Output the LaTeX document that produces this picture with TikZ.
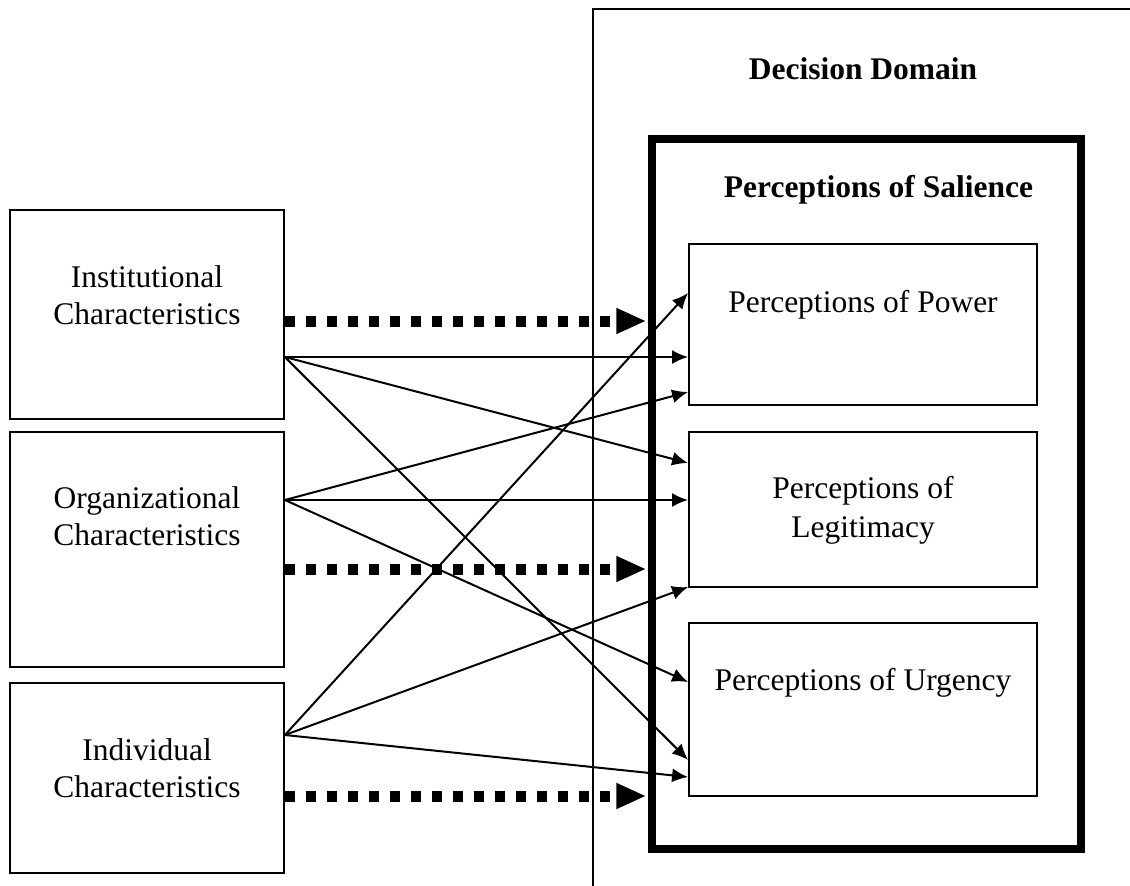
\documentclass[tikz,border=0pt]{standalone}
\usepackage{fontspec}
\setmainfont{Liberation Serif}
\usetikzlibrary{arrows.meta}
\begin{document}
\begin{tikzpicture}[x=1pt,y=-1pt,
  box/.style={draw, line width=1.8pt, inner sep=0pt, rectangle},
  lbl/.style={inner sep=0pt, anchor=base, font=\fontsize{31.5}{37}\selectfont},
  blbl/.style={lbl, font=\fontsize{31.5}{37}\selectfont\bfseries},
  link/.style={line width=2pt, -{Latex[length=16pt,width=14pt]}},
  flow/.style={line width=11pt, dash pattern=on 10pt off 11pt, -{Triangle[length=30pt,width=24pt]}, shorten >=2pt}]
\useasboundingbox (0,0) rectangle (1130,886);
% decision domain frame
\coordinate (dBL) at (593,890);
\coordinate (dTL) at (593,9);
\coordinate (dTR) at (1135,9);
\draw[line width=1.5pt] (dBL) -- (dTL) -- (dTR);
\node[blbl] (dom) at (863,79) {Decision Domain};
% salience box
\node[draw, line width=7.5pt, inner sep=0pt, minimum width=429pt, minimum height=710pt] (sal) at (866.5,494) {};
\node[blbl] (salt) at (878.5,197) {Perceptions of Salience};
% left boxes
\node[box, minimum width=274pt, minimum height=209pt] (inst) at (147,314.5) {};
\node[box, minimum width=274pt, minimum height=235pt] (org) at (147,549.5) {};
\node[box, minimum width=274pt, minimum height=190pt] (ind) at (147,778) {};
\node[lbl] (instt) at (147,287) {\begin{tabular}[t]{@{}c@{}}Institutional\\Characteristics\end{tabular}};
\node[lbl] (orgt) at (147,508) {\begin{tabular}[t]{@{}c@{}}Organizational\\Characteristics\end{tabular}};
\node[lbl] (indt) at (147,760) {\begin{tabular}[t]{@{}c@{}}Individual\\Characteristics\end{tabular}};
% right boxes
\node[box, fill=white, minimum width=348pt, minimum height=161pt] (pow) at (863,324.5) {};
\node[box, fill=white, minimum width=348pt, minimum height=155pt] (leg) at (863,509.5) {};
\node[box, fill=white, minimum width=348pt, minimum height=173pt] (urg) at (863,709.5) {};
\node[lbl] (powt) at (863,312) {Perceptions of Power};
\node[lbl] (legt) at (863,498) {\begin{tabular}[t]{@{}c@{}}Perceptions of\\[2pt]Legitimacy\end{tabular}};
\node[lbl] (urgt) at (863,690) {Perceptions of Urgency};
% dashed flows
\draw[flow] (inst.east |- 0,321) -- (sal.west |- 0,321);
\draw[flow] (org.east |- 0,569) -- (sal.west |- 0,569);
\draw[flow] (ind.east |- 0,796) -- (sal.west |- 0,796);
% thin links
\coordinate (iS) at (inst.east |- 0,357);
\coordinate (oS) at (org.east |- 0,500);
\coordinate (nS) at (ind.east |- 0,735);
\draw[link] (iS) -- (pow.west |- 0,357);
\draw[link] (iS) -- (leg.west |- 0,463);
\draw[link] (iS) -- (urg.west |- 0,760);
\draw[link] (oS) -- (pow.west |- 0,392);
\draw[link] (oS) -- (leg.west |- 0,500);
\draw[link] (oS) -- (urg.west |- 0,682);
\draw[link] (nS) -- (pow.west |- 0,293);
\draw[link] (nS) -- (leg.west |- 0,587);
\draw[link] (nS) -- (urg.west |- 0,777);
\end{tikzpicture}
\end{document}
